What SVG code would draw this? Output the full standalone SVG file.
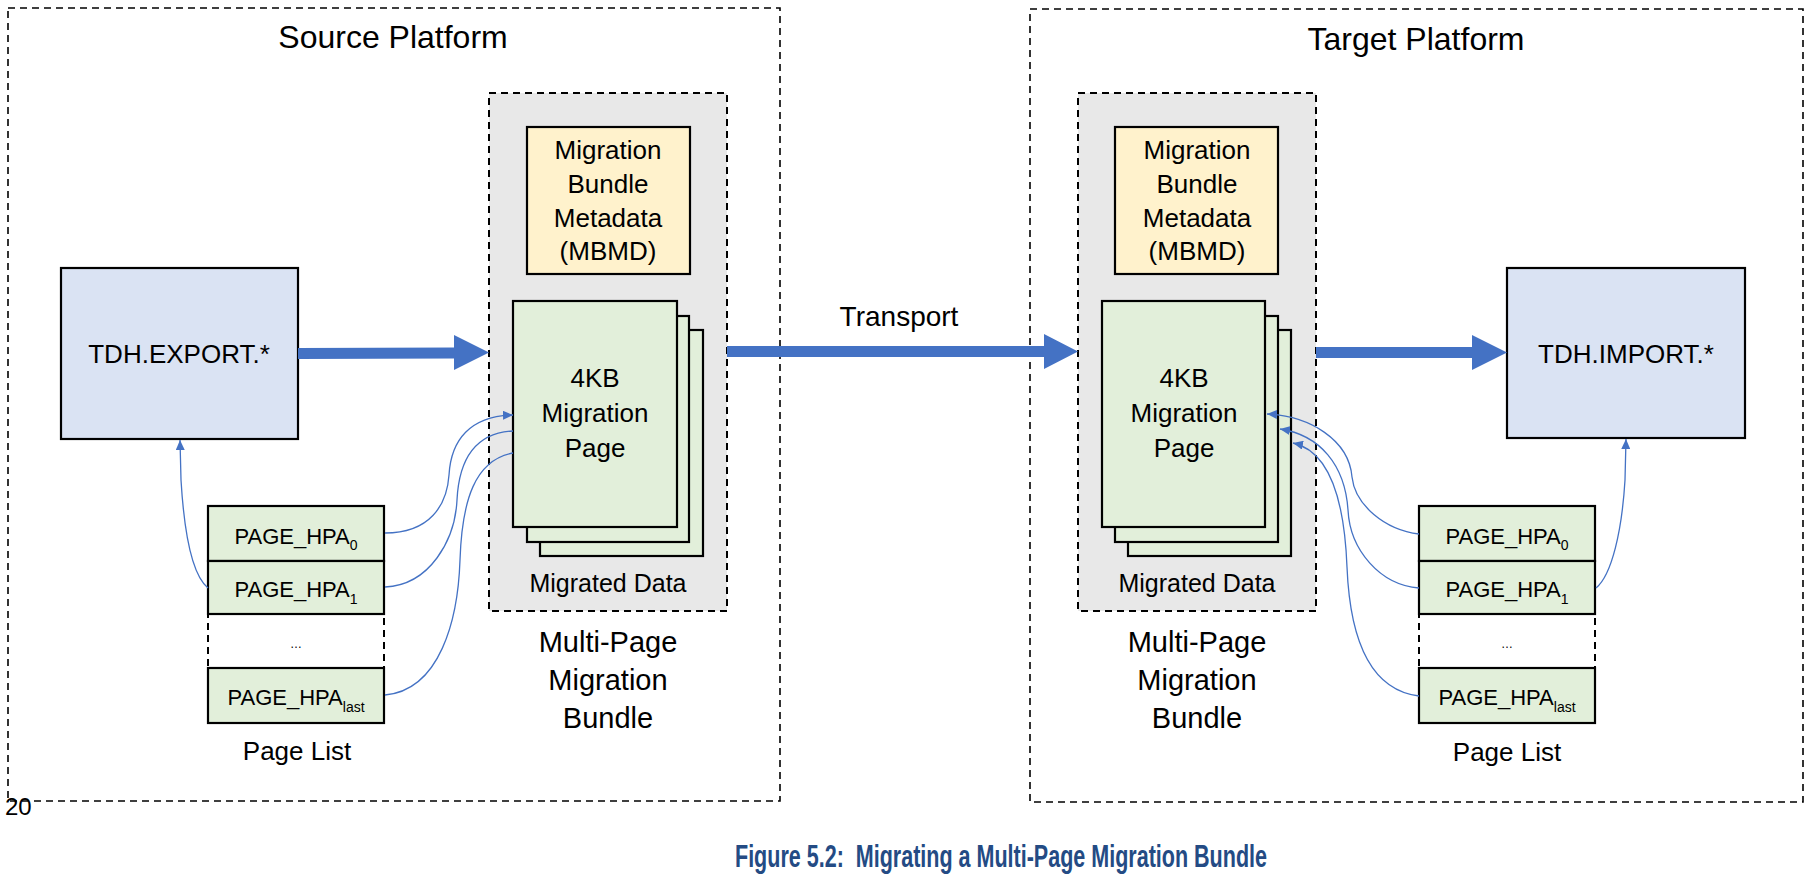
<svg xmlns="http://www.w3.org/2000/svg" width="1811" height="879" viewBox="0 0 1811 879">
  <style>
    text { font-family: "Liberation Sans", Arial, sans-serif; fill: #000; }
    .platform { fill: none; stroke: #000; stroke-width: 1.6; stroke-dasharray: 7 5; }
    .bundle { fill: #e8e8e8; stroke: #000; stroke-width: 2; stroke-dasharray: 7 5; }
    .mbmd { fill: #fff2cc; stroke: #000; stroke-width: 2.2; }
    .page { fill: #e2efda; stroke: #000; stroke-width: 2.2; }
    .api { fill: #dae3f3; stroke: #000; stroke-width: 2.2; }
    .slot { fill: #e2efda; stroke: #000; stroke-width: 2.2; }
    .gap { fill: #fff; stroke: #000; stroke-width: 2; stroke-dasharray: 7 5; }
    .big { fill: #4472c4; }
    .link { fill: none; stroke: #4472c4; stroke-width: 1.3; }
    .title { font-size: 32px; }
    .t26 { font-size: 26px; }
    .t25 { font-size: 25px; }
    .t29 { font-size: 29px; }
    .hpa { font-size: 22px; }
    .sub { font-size: 14px; }
    .caption { font-size: 31px; font-weight: bold; fill: #244b84; }
  </style>
  <defs>
    <marker id="tip" viewBox="0 0 10 9" refX="10" refY="4.5" markerWidth="10" markerHeight="9" markerUnits="userSpaceOnUse" orient="auto">
      <path d="M0,0 L10,4.5 L0,9 Z" fill="#4472c4"/>
    </marker>
  </defs>

  <!-- platform frames -->
  <g id="source-platform">
    <rect class="platform" x="8" y="8" width="772" height="793"/>
    <text class="title" x="393" y="48" text-anchor="middle">Source Platform</text>
  </g>
  <g id="target-platform">
    <rect class="platform" x="1030" y="9" width="773" height="793"/>
    <text class="title" x="1416" y="50" text-anchor="middle">Target Platform</text>
  </g>

  <!-- source side -->
  <g id="src-bundle">
    <rect class="bundle" x="489" y="93" width="238" height="518"/>
    <text class="t25" x="608" y="592" text-anchor="middle">Migrated Data</text>
    <text class="t29" x="608" y="652" text-anchor="middle">Multi-Page</text>
    <text class="t29" x="608" y="690" text-anchor="middle">Migration</text>
    <text class="t29" x="608" y="728" text-anchor="middle">Bundle</text>
  </g>
  <g id="src-mbmd">
    <rect class="mbmd" x="527" y="127" width="163" height="147"/>
    <text class="t26" x="608" y="159" text-anchor="middle">Migration</text>
    <text class="t26" x="608" y="193" text-anchor="middle">Bundle</text>
    <text class="t26" x="608" y="227" text-anchor="middle">Metadata</text>
    <text class="t26" x="608" y="260" text-anchor="middle">(MBMD)</text>
  </g>
  <g id="src-pages">
    <rect class="page" x="540" y="330" width="163" height="226"/>
    <rect class="page" x="527" y="316" width="162" height="226"/>
    <rect class="page" x="513" y="301" width="164" height="226"/>
    <text class="t26" x="595" y="387" text-anchor="middle">4KB</text>
    <text class="t26" x="595" y="422" text-anchor="middle">Migration</text>
    <text class="t26" x="595" y="457" text-anchor="middle">Page</text>
  </g>
  <g id="src-export">
    <rect class="api" x="61" y="268" width="237" height="171"/>
    <text class="t26" x="179" y="363" text-anchor="middle">TDH.EXPORT.*</text>
  </g>
  <g id="src-page-list">
    <rect class="gap" x="208" y="614" width="176" height="54"/>
    <text x="296" y="648" text-anchor="middle" font-size="12">…</text>
    <rect class="slot" x="208" y="506" width="176" height="55"/>
    <text class="hpa" x="296" y="544" text-anchor="middle">PAGE_HPA<tspan class="sub" dy="6">0</tspan></text>
    <rect class="slot" x="208" y="561" width="176" height="53"/>
    <text class="hpa" x="296" y="597" text-anchor="middle">PAGE_HPA<tspan class="sub" dy="7">1</tspan></text>
    <rect class="slot" x="208" y="668" width="176" height="55"/>
    <text class="hpa" x="296" y="705" text-anchor="middle">PAGE_HPA<tspan class="sub" dy="7">last</tspan></text>
    <text class="t26" x="297" y="760" text-anchor="middle">Page List</text>
  </g>

  <!-- target side -->
  <g id="dst-bundle">
    <rect class="bundle" x="1078" y="93" width="238" height="518"/>
    <text class="t25" x="1197" y="592" text-anchor="middle">Migrated Data</text>
    <text class="t29" x="1197" y="652" text-anchor="middle">Multi-Page</text>
    <text class="t29" x="1197" y="690" text-anchor="middle">Migration</text>
    <text class="t29" x="1197" y="728" text-anchor="middle">Bundle</text>
  </g>
  <g id="dst-mbmd">
    <rect class="mbmd" x="1115" y="127" width="163" height="147"/>
    <text class="t26" x="1197" y="159" text-anchor="middle">Migration</text>
    <text class="t26" x="1197" y="193" text-anchor="middle">Bundle</text>
    <text class="t26" x="1197" y="227" text-anchor="middle">Metadata</text>
    <text class="t26" x="1197" y="260" text-anchor="middle">(MBMD)</text>
  </g>
  <g id="dst-pages">
    <rect class="page" x="1128" y="330" width="163" height="226"/>
    <rect class="page" x="1115" y="316" width="163" height="226"/>
    <rect class="page" x="1102" y="301" width="163" height="226"/>
    <text class="t26" x="1184" y="387" text-anchor="middle">4KB</text>
    <text class="t26" x="1184" y="422" text-anchor="middle">Migration</text>
    <text class="t26" x="1184" y="457" text-anchor="middle">Page</text>
  </g>
  <g id="dst-import">
    <rect class="api" x="1507" y="268" width="238" height="170"/>
    <text class="t26" x="1626" y="363" text-anchor="middle">TDH.IMPORT.*</text>
  </g>
  <g id="dst-page-list">
    <rect class="gap" x="1419" y="614" width="176" height="54"/>
    <text x="1507" y="648" text-anchor="middle" font-size="12">…</text>
    <rect class="slot" x="1419" y="506" width="176" height="55"/>
    <text class="hpa" x="1507" y="544" text-anchor="middle">PAGE_HPA<tspan class="sub" dy="6">0</tspan></text>
    <rect class="slot" x="1419" y="561" width="176" height="53"/>
    <text class="hpa" x="1507" y="597" text-anchor="middle">PAGE_HPA<tspan class="sub" dy="7">1</tspan></text>
    <rect class="slot" x="1419" y="668" width="176" height="55"/>
    <text class="hpa" x="1507" y="705" text-anchor="middle">PAGE_HPA<tspan class="sub" dy="7">last</tspan></text>
    <text class="t26" x="1507" y="761" text-anchor="middle">Page List</text>
  </g>

  <!-- connectors -->
  <g id="connectors">
    <!-- block arrows -->
    <polygon class="big" points="298,348 454,347.5 454,335 489,352.5 454,370 454,358.5 298,359"/>
    <polygon class="big" points="727,346 1044,346 1044,334 1078,351.5 1044,369 1044,357 727,357"/>
    <polygon class="big" points="1316,347 1472,347 1472,335 1507,352.5 1472,370 1472,358 1316,358"/>
    <text x="899" y="326" text-anchor="middle" font-size="28">Transport</text>

    <!-- source page list links -->
    <path class="link" d="M208,588 C192,575 184,530 181,480 L180,440" marker-end="url(#tip)"/>
    <path class="link" d="M385,533 C430,533 447,505 449,475 C451,440 470,416 513,415" marker-end="url(#tip)"/>
    <path class="link" d="M385,587 C430,585 455,540 457,500 C459,460 475,433 513,431"/>
    <path class="link" d="M385,695 C440,690 458,620 460,560 C462,500 475,460 513,453"/>

    <!-- target page list links -->
    <path class="link" d="M1596,588 C1612,575 1622,530 1625,480 L1626,439" marker-end="url(#tip)"/>
    <path class="link" d="M1419,534 C1385,530 1355,505 1352,477 C1349,440 1310,416 1267,414" marker-end="url(#tip)"/>
    <path class="link" d="M1419,588 C1380,585 1350,550 1348,510 C1345,465 1320,435 1280,429" marker-end="url(#tip)"/>
    <path class="link" d="M1419,696 C1370,690 1350,640 1347,567 C1344,490 1325,450 1293,443" marker-end="url(#tip)"/>
  </g>

  <text x="5" y="815" font-size="24">20</text>
  <text class="caption" x="1001" y="867" text-anchor="middle" textLength="532" lengthAdjust="spacingAndGlyphs">Figure 5.2:&#160; Migrating a Multi-Page Migration Bundle</text>
</svg>
